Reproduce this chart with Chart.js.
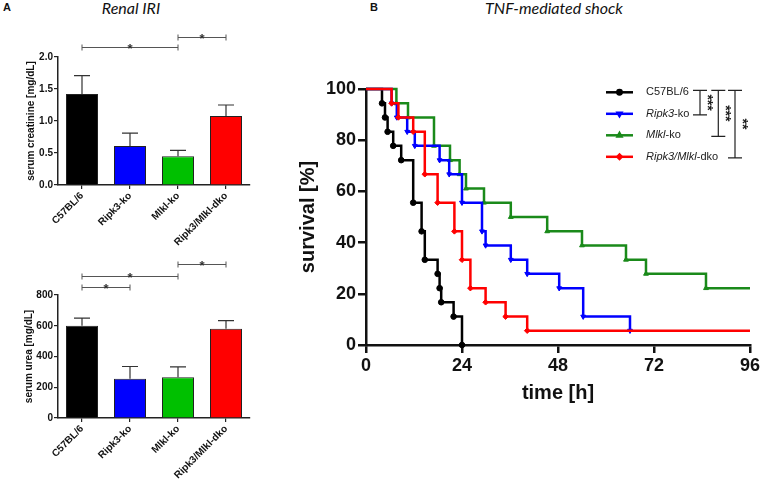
<!DOCTYPE html>
<html><head><meta charset="utf-8">
<script src="https://cdn.jsdelivr.net/npm/chart.js@4"></script>
<style>
body{margin:0;background:#fff;width:762px;height:480px;position:relative;overflow:hidden;}
canvas{position:absolute;}
.lbl{position:absolute;font-family:"Liberation Sans",Arial,sans-serif;font-weight:bold;font-size:11px;color:#111;}
.ttl{position:absolute;font-family:Lato,"Open Sans",sans-serif;font-style:italic;font-size:16px;white-space:nowrap;transform:translateX(-50%);color:#111;}
</style></head><body>
<div class="lbl" style="left:3px;top:1px">A</div>
<div class="lbl" style="left:370px;top:1px">B</div>
<div class="ttl" style="left:131px;top:-2px">Renal IRI</div>
<div class="ttl" style="left:554px;top:-2px">TNF-mediated shock</div>
<canvas id="c1" width="260" height="250" style="left:0;top:0"></canvas>
<canvas id="c2" width="260" height="240" style="left:0;top:240px"></canvas>
<canvas id="c3" width="472" height="380" style="left:290px;top:40px"></canvas>
<script>
// ---------- DATA ----------
const groups = ['C57BL/6', 'Ripk3-ko', 'Mlkl-ko', 'Ripk3/Mlkl-dko'];
const creatMean = [1.42, 0.61, 0.45, 1.08];
const creatSem  = [0.29, 0.20, 0.09, 0.17];
const ureaMean  = [600, 255, 265, 580];
const ureaSem   = [50, 80, 68, 53];
const creatSig  = [[0, 2, '*'], [2, 3, '*']];
const ureaSig   = [[0, 1, '*'], [0, 2, '*'], [2, 3, '*']];

// Kaplan-Meier survival (time [h], survival [%])
const c57Time   = [0, 4, 4.75, 5.4, 6.8, 8.8, 11.8, 13.9, 14.7, 17.9, 18.4, 18.8, 21.9, 24];
const c57Surv   = [100, 94.4, 88.9, 83.3, 77.8, 72.2, 55.6, 44.4, 33.3, 27.8, 22.2, 16.7, 11.1, 0];
const ripk3Time = [0, 6.4, 7.7, 10.3, 12.2, 18.4, 20.8, 24, 29, 29.9, 36.2, 40.3, 48.3, 54.3, 66];
const ripk3Surv = [100, 94.4, 88.9, 83.3, 77.8, 72.2, 66.7, 55.6, 44.4, 38.9, 33.3, 27.8, 22.2, 11.1, 5.6];
const mlklTime  = [0, 7.6, 10.5, 17, 21, 23.4, 25, 29.5, 36.2, 45.3, 54, 65, 70, 85, 96];
const mlklSurv  = [100, 94.4, 88.9, 77.8, 72.2, 66.7, 61.1, 55.6, 50, 44.4, 38.9, 33.3, 27.8, 22.2, 22.2];
const dkoTime   = [0, 6.4, 8.1, 11.8, 14.7, 17.9, 22.1, 24, 26.1, 29.9, 34.9, 40.3, 96];
const dkoSurv   = [100, 94.4, 88.9, 83.3, 66.7, 55.6, 44.4, 33.3, 22.2, 16.7, 11.1, 5.6, 5.6];
const kmLegend  = ['C57BL/6', 'Ripk3-ko', 'Mlkl-ko', 'Ripk3/Mlkl-dko'];
const kmItalic  = ['', 'Ripk3', 'Mlkl', 'Ripk3/Mlkl'];
const kmSig     = [[0, 1, '***'], [0, 2, '***'], [0, 3, '**']];
const timeTicks = [0, 24, 48, 72, 96];
const survTicks = [0, 20, 40, 60, 80, 100];

// ---------- STYLE ----------
const FONT = '"Liberation Sans", Arial, sans-serif';
const barColors = ['#000000', '#0000ff', '#00c000', '#ff0000'];
const kmColors  = ['#000000', '#0000ff', '#1a8a1a', '#ff0000'];
const kmStyles  = [['circle', 0], ['triangle', 180], ['triangle', 0], ['rectRot', 0]];

const barExtras = {
  id: 'barExtras',
  afterDatasetsDraw(chart, args, o) {
    const ctx = chart.ctx, meta = chart.getDatasetMeta(0), y = chart.scales.y, x = chart.scales.x;
    ctx.save();
    ctx.strokeStyle = '#333'; ctx.lineWidth = 1.2;
    o.mean.forEach((m, i) => {
      const cx = meta.data[i].x, y0 = y.getPixelForValue(m), y1 = y.getPixelForValue(m + o.sem[i]);
      ctx.beginPath(); ctx.moveTo(cx, y0); ctx.lineTo(cx, y1);
      ctx.moveTo(cx - 8, y1); ctx.lineTo(cx + 8, y1); ctx.stroke();
    });
    ctx.strokeStyle = '#555'; ctx.lineWidth = 1; ctx.fillStyle = '#333';
    ctx.font = 'bold 13px ' + FONT; ctx.textAlign = 'center'; ctx.textBaseline = 'alphabetic';
    o.sig.forEach((s, k) => {
      const xa = x.getPixelForValue(s[0]), xb = x.getPixelForValue(s[1]);
      const yy = Math.round(chart.chartArea.top - o.base - k * o.step) + 0.5;
      ctx.beginPath(); ctx.moveTo(xa, yy); ctx.lineTo(xb, yy);
      ctx.moveTo(xa, yy - 3); ctx.lineTo(xa, yy + 3);
      ctx.moveTo(xb, yy - 3); ctx.lineTo(xb, yy + 3); ctx.stroke();
      ctx.fillText(s[2], (xa + xb) / 2, yy + 5);
    });
    ctx.restore();
  }
};

function barChart(id, mean, sem, sig, yMax, step, yTitle, topPad, xH, titlePad, dec, base, stepPx) {
  return new Chart(document.getElementById(id), {
    type: 'bar',
    data: { labels: groups, datasets: [{ data: mean, backgroundColor: barColors, borderColor: '#222', borderWidth: 1, barPercentage: 0.667, categoryPercentage: 1 }] },
    options: {
      responsive: false, animation: false, devicePixelRatio: 1,
      layout: { padding: { top: topPad, right: 10, left: 0, bottom: 0 } },
      plugins: { legend: { display: false }, tooltip: { enabled: false }, barExtras: { mean, sem, sig, base, step: stepPx } },
      scales: {
        x: {
          grid: { offset: false, drawOnChartArea: false, color: '#222', tickLength: 4, lineWidth: 1.2 },
          border: { color: '#222', width: 1.5 },
          ticks: { color: '#111', font: { family: FONT, size: 10, weight: 'bold' }, minRotation: 45, maxRotation: 45, padding: 1 },
          afterFit: s => { s.height = xH; }
        },
        y: {
          min: 0, max: yMax,
          ticks: { stepSize: step, color: '#111', font: { family: FONT, size: 10, weight: 'bold' }, padding: 1, callback: v => v.toFixed(dec) },
          grid: { drawOnChartArea: false, color: '#222', tickLength: 4, lineWidth: 1.2 },
          border: { color: '#222', width: 1.5 },
          title: { display: true, text: yTitle, color: '#111', font: { family: FONT, size: 10, weight: 'bold' }, padding: { top: titlePad, bottom: 0 } },
          afterFit: s => { s.width = 58; }
        }
      }
    },
    plugins: [barExtras]
  });
}

barChart('c1', creatMean, creatSem, creatSig, 2, 0.5, 'serum creatinine [mg/dL]', 57, 65, 25, 1, 9.7, 10.3);
barChart('c2', ureaMean, ureaSem, ureaSig, 800, 200, 'serum urea [mg/dL]', 55, 62, 23, 0, 8.3, 11.2);

// ---------- KM ----------
const kmExtras = {
  id: 'kmExtras',
  afterDraw(chart) {
    const ctx = chart.ctx, a = chart.chartArea;
    const rows = [0, 1, 2, 3].map(i => a.top + 3.3 + i * 21.5);
    ctx.save();
    kmLegend.forEach((lab, i) => {
      const yy = rows[i];
      ctx.strokeStyle = kmColors[i]; ctx.lineWidth = 2.5;
      ctx.beginPath(); ctx.moveTo(a.left + 240, yy); ctx.lineTo(a.left + 267, yy); ctx.stroke();
      ctx.fillStyle = kmColors[i];
      Chart.helpers.drawPoint(ctx, { pointStyle: kmStyles[i][0], rotation: kmStyles[i][1], radius: 2.2, borderWidth: 1 }, a.left + 253.5, yy);
      let tx = a.left + 280; ctx.fillStyle = '#222'; ctx.textBaseline = 'middle'; ctx.textAlign = 'left';
      const it = kmItalic[i];
      if (it) { ctx.font = 'italic 11px ' + FONT; ctx.fillText(it, tx, yy); tx += ctx.measureText(it).width; }
      ctx.font = '11px ' + FONT; ctx.fillText(lab.slice(it.length), tx, yy);
    });
    const bx = [334, 352.3, 369];
    ctx.strokeStyle = '#222'; ctx.lineWidth = 1.2; ctx.fillStyle = '#222';
    kmSig.forEach((s, k) => {
      const x = a.left + bx[k], y0 = rows[s[0]] - 2, y1 = rows[s[1]] + 1;
      ctx.beginPath(); ctx.moveTo(x, y0); ctx.lineTo(x, y1);
      ctx.moveTo(x - 7, y0); ctx.lineTo(x + 7, y0); ctx.moveTo(x - 7, y1); ctx.lineTo(x + 7, y1); ctx.stroke();
      ctx.save(); ctx.translate(x + 2.5, (y0 + y1) / 2); ctx.rotate(Math.PI / 2);
      ctx.font = 'bold 14px ' + FONT; ctx.textAlign = 'center'; ctx.textBaseline = 'alphabetic';
      ctx.fillText(s[2], 0, 0); ctx.restore();
    });
    ctx.restore();
  }
};

function km(T, S) { return T.map((t, i) => ({ x: t, y: S[i] })); }
const kmSeries = [[c57Time, c57Surv], [ripk3Time, ripk3Surv], [mlklTime, mlklSurv], [dkoTime, dkoSurv]];
const drawOrder = [3, 1, 2, 0];
new Chart(document.getElementById('c3'), {
  type: 'line',
  data: {
    datasets: drawOrder.map(i => ({
      data: km(kmSeries[i][0], kmSeries[i][1]),
      stepped: 'before', borderColor: kmColors[i], backgroundColor: kmColors[i], borderWidth: 2.5, fill: false,
      pointStyle: kmStyles[i][0], pointRotation: kmStyles[i][1], pointBorderWidth: 1,
      pointRadius: c => { const d = c.dataset.data, j = c.dataIndex; return (j === 0 || d[j].y === d[j - 1].y) ? 0 : 2.8; },
      clip: false
    }))
  },
  options: {
    responsive: false, animation: false, devicePixelRatio: 1,
    layout: { padding: { top: 49, right: 11, left: 0, bottom: 0 } },
    plugins: { legend: { display: false }, tooltip: { enabled: false } },
    scales: {
      x: {
        type: 'linear', min: 0, max: 96,
        afterBuildTicks: s => { s.ticks = timeTicks.map(v => ({ value: v })); },
        ticks: { color: '#111', font: { family: FONT, size: 18, weight: 'bold' }, padding: 2 },
        grid: { drawOnChartArea: false, color: '#111', tickLength: 8, lineWidth: 2.5 },
        border: { color: '#111', width: 2.5 },
        title: { display: true, text: 'time [h]', color: '#111', font: { family: FONT, size: 20, weight: 'bold' }, padding: { top: 0, bottom: 15 } },
        afterFit: s => { s.height = 75; }
      },
      y: {
        min: 0, max: 100,
        afterBuildTicks: s => { s.ticks = survTicks.map(v => ({ value: v })); },
        ticks: { color: '#111', font: { family: FONT, size: 18, weight: 'bold' }, padding: 2 },
        grid: { drawOnChartArea: false, color: '#111', tickLength: 8, lineWidth: 2.5 },
        border: { color: '#111', width: 2.5 },
        title: { display: true, text: 'survival [%]', color: '#111', font: { family: FONT, size: 20, weight: 'bold' }, padding: { top: 6.5, bottom: 0 } },
        afterFit: s => { s.width = 76; }
      }
    }
  },
  plugins: [kmExtras]
});
</script>
</body></html>
